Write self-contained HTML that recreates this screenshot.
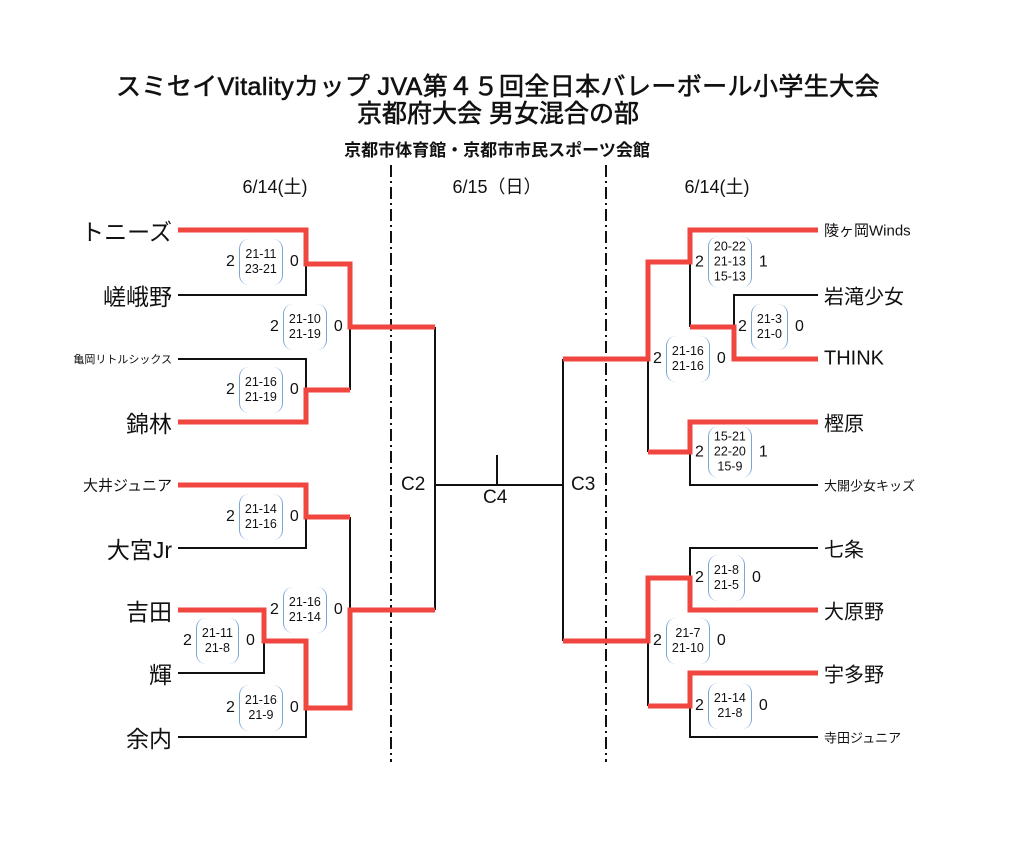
<!DOCTYPE html>
<html><head><meta charset="utf-8"><style>
html,body{margin:0;padding:0;background:#fff;}
body{width:1024px;height:846px;position:relative;overflow:hidden;font-family:"Liberation Sans","Noto Sans CJK JP",sans-serif;color:#111;}
.t{position:absolute;white-space:nowrap;}
.sc{position:absolute;display:flex;align-items:center;transform:translateY(-50%);font-size:16px;}
.br{border-left:1.5px solid #7aa5d6;border-right:1.5px solid #7aa5d6;border-radius:10px;padding:0 5px;margin:0 7px 0 4px;font-size:12.5px;line-height:15px;text-align:center;}
.b2{padding-top:8px;padding-bottom:8px;}
.b3{padding-top:3px;padding-bottom:3px;}
.nl{position:absolute;right:852px;transform:translateY(-50%);white-space:nowrap;}
.nr{position:absolute;left:824px;transform:translateY(-50%);white-space:nowrap;}
.ti{-webkit-text-stroke:0.6px #111;}
</style></head><body>
<svg width="1024" height="846" style="position:absolute;left:0;top:0">
<g stroke="#111" stroke-width="2" fill="none">
<line x1="391" y1="165" x2="391" y2="762" stroke-dasharray="12,4,2,4"/>
<line x1="606" y1="165" x2="606" y2="762" stroke-dasharray="12,4,2,4"/>
<path d="M178 295H306V264"/>
<path d="M178 359H306V390"/>
<path d="M350 327V390"/>
<path d="M178 548H306V517"/>
<path d="M350 517V610"/>
<path d="M178 673H264V641"/>
<path d="M178 737H306V708"/>
<path d="M435 327V610M435 485H563M497 455V485"/>
<path d="M563 359V641"/>
<path d="M690 262V327"/>
<path d="M818 295H734V327"/>
<path d="M648 359V452"/>
<path d="M818 485H690V452"/>
<path d="M818 548H690V578"/>
<path d="M648 641V706"/>
<path d="M818 737H690V706"/>
</g>
<g stroke="#f0463f" stroke-width="5" fill="none" stroke-linejoin="miter">
<path d="M178 230H306V264H350V327H435"/>
<path d="M178 422H306V390H350"/>
<path d="M178 485H306V517H350"/>
<path d="M178 610H264V641H306V708H350V610H435"/>
<path d="M818 230H690V262H648V359H563"/>
<path d="M818 359H734V327H690"/>
<path d="M818 422H690V452H648"/>
<path d="M818 610H690V578H648V641H563"/>
<path d="M818 673H690V706H648"/>
</g>
</svg>
<div class="t ti" style="left:0;width:996px;text-align:center;top:67px;font-size:25px;letter-spacing:0.4px;">スミセイVitalityカップ JVA第４５回全日本バレーボール小学生大会</div>
<div class="t ti" style="left:0;width:996px;text-align:center;top:94px;font-size:25px;">京都府大会 男女混合の部</div>
<div class="t" style="left:0;width:994px;text-align:center;top:136px;font-size:17px;font-weight:bold;">京都市体育館・京都市市民スポーツ会館</div>
<div class="t" style="left:220px;width:110px;text-align:center;top:173px;font-size:18px;">6/14(土)</div>
<div class="t" style="left:437px;width:120px;text-align:center;top:173px;font-size:18px;">6/15（日）</div>
<div class="t" style="left:662px;width:110px;text-align:center;top:173px;font-size:18px;">6/14(土)</div>
<div class="t" style="left:401px;top:474px;font-size:19px;">C2</div>
<div class="t" style="left:571px;top:474px;font-size:19px;">C3</div>
<div class="t" style="left:483px;top:487px;font-size:19px;">C4</div>

<div class="nl" style="top:230px;font-size:23px;">トニーズ</div>
<div class="nl" style="top:295px;font-size:23px;">嵯峨野</div>
<div class="nl" style="top:359px;font-size:11px;">亀岡リトルシックス</div>
<div class="nl" style="top:422px;font-size:23px;">錦林</div>
<div class="nl" style="top:485px;font-size:15px;">大井ジュニア</div>
<div class="nl" style="top:548px;font-size:23px;">大宮Jr</div>
<div class="nl" style="top:610px;font-size:23px;">吉田</div>
<div class="nl" style="top:673px;font-size:23px;">輝</div>
<div class="nl" style="top:737px;font-size:23px;">余内</div>

<div class="nr" style="top:230px;font-size:15px;">陵ヶ岡Winds</div>
<div class="nr" style="top:295px;font-size:20px;">岩滝少女</div>
<div class="nr" style="top:359px;font-size:20px;">THINK</div>
<div class="nr" style="top:422px;font-size:20px;">樫原</div>
<div class="nr" style="top:485px;font-size:13px;">大開少女キッズ</div>
<div class="nr" style="top:548px;font-size:20px;">七条</div>
<div class="nr" style="top:610px;font-size:20px;">大原野</div>
<div class="nr" style="top:673px;font-size:20px;">宇多野</div>
<div class="nr" style="top:737px;font-size:13px;">寺田ジュニア</div>

<div class="sc" style="left:226px;top:262px;">2<div class="br b2">21-11<br>23-21</div>0</div>
<div class="sc" style="left:270px;top:327px;">2<div class="br b2">21-10<br>21-19</div>0</div>
<div class="sc" style="left:226px;top:390px;">2<div class="br b2">21-16<br>21-19</div>0</div>
<div class="sc" style="left:226px;top:517px;">2<div class="br b2">21-14<br>21-16</div>0</div>
<div class="sc" style="left:270px;top:610px;">2<div class="br b2">21-16<br>21-14</div>0</div>
<div class="sc" style="left:183px;top:641px;">2<div class="br b2">21-11<br>21-8</div>0</div>
<div class="sc" style="left:226px;top:708px;">2<div class="br b2">21-16<br>21-9</div>0</div>

<div class="sc" style="left:695px;top:262px;">2<div class="br b3">20-22<br>21-13<br>15-13</div>1</div>
<div class="sc" style="left:738px;top:327px;">2<div class="br b2">21-3<br>21-0</div>0</div>
<div class="sc" style="left:653px;top:359px;">2<div class="br b2">21-16<br>21-16</div>0</div>
<div class="sc" style="left:695px;top:452px;">2<div class="br b3">15-21<br>22-20<br>15-9</div>1</div>
<div class="sc" style="left:695px;top:578px;">2<div class="br b2">21-8<br>21-5</div>0</div>
<div class="sc" style="left:653px;top:641px;">2<div class="br b2">21-7<br>21-10</div>0</div>
<div class="sc" style="left:695px;top:706px;">2<div class="br b2">21-14<br>21-8</div>0</div>
</body></html>
